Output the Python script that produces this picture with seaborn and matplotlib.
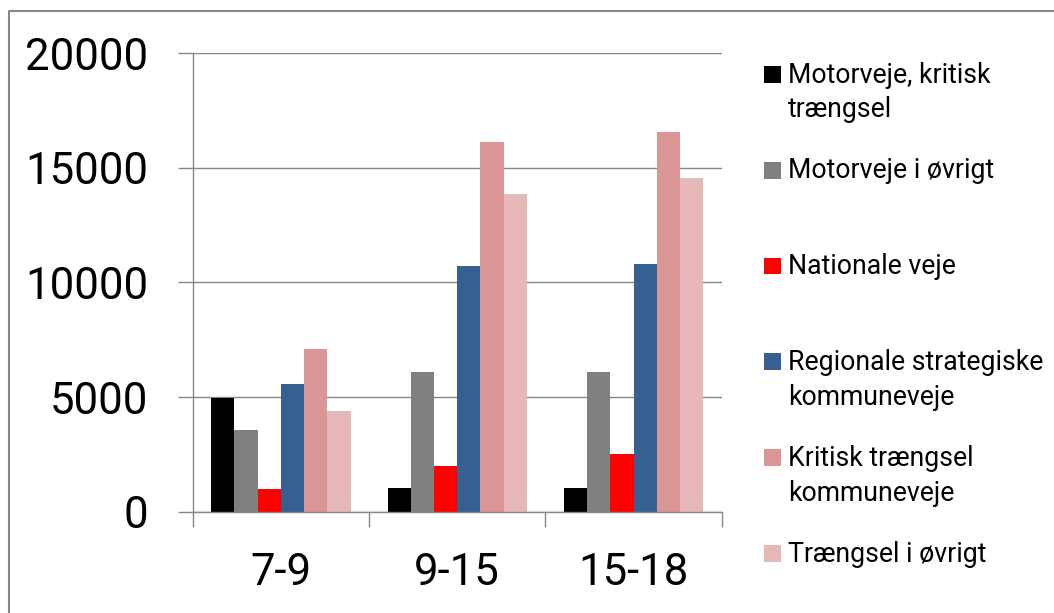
import matplotlib
matplotlib.use("Agg")
import matplotlib.pyplot as plt
import numpy as np
import pandas as pd
import seaborn as sns
from matplotlib.lines import Line2D
from matplotlib.patches import Rectangle

# Time-of-day periods on the x axis
periods = ["7-9", "9-15", "15-18"]

# Road categories (line breaks mark how the legend text wraps)
road_types = [
    "Motorveje, kritisk\ntrængsel",
    "Motorveje i øvrigt",
    "Nationale veje",
    "Regionale strategiske\nkommuneveje",
    "Kritisk trængsel\nkommuneveje",
    "Trængsel i øvrigt",
]

# Values per period for each road category
motorveje_kritisk = [4950, 1050, 1050]
motorveje_oevrigt = [3550, 6100, 6100]
nationale_veje = [1000, 2000, 2500]
regionale_strategiske = [5550, 10700, 10800]
kritisk_kommuneveje = [7100, 16100, 16550]
traengsel_oevrigt = [4400, 13850, 14550]

y_ticks = [0, 5000, 10000, 15000, 20000]

colors = ["#000000", "#808080", "#FF0000", "#376092", "#D99694", "#E6B9B8"]
GRAY = "#868686"

series = [motorveje_kritisk, motorveje_oevrigt, nationale_veje,
          regionale_strategiske, kritisk_kommuneveje, traengsel_oevrigt]
df = pd.DataFrame(
    [(p, road, v) for road, vals in zip(road_types, series) for p, v in zip(periods, vals)],
    columns=["period", "road", "value"],
)

sns.set_theme(style="white")
plt.rcParams["font.family"] = ["Roboto", "DejaVu Sans"]

W, H = 1054, 613
fig = plt.figure(figsize=(W / 100, H / 100), dpi=100)
fig.patch.set_facecolor("white")


def fx(px):
    return px / W


def fy(py):
    return 1 - py / H


ax = fig.add_axes([fx(192.7), fy(511.7), fx(721.7) - fx(192.7), fy(53) - fy(511.7)])

sns.barplot(
    data=df, x="period", y="value", hue="road",
    order=periods, hue_order=road_types, palette=colors,
    width=0.79, saturation=1, linewidth=0, errorbar=None,
    legend=False, ax=ax,
)

ax.set_xlim(-0.5, len(periods) - 0.5)
ax.set_ylim(0, 20000)
ax.set_yticks(y_ticks)
ax.set_yticklabels([str(t) for t in y_ticks])
ax.set_xlabel("")
ax.set_ylabel("")

ax.set_axisbelow(True)
ax.yaxis.grid(True, color=GRAY, linewidth=1.0)
ax.xaxis.grid(False)

for side in ("top", "right"):
    ax.spines[side].set_visible(False)
for side in ("left", "bottom"):
    ax.spines[side].set_color(GRAY)
    ax.spines[side].set_linewidth(1.0)

ax.tick_params(axis="y", direction="out", length=10.8, width=1.0, color=GRAY,
               pad=21, labelsize=31.5, labelcolor="black", left=True)
ax.tick_params(axis="x", which="major", length=0, pad=29, labelsize=31.5,
               labelcolor="black", bottom=True)
ax.set_xticks(np.arange(-0.5, len(periods), 1.0), minor=True)
ax.tick_params(axis="x", which="minor", direction="out", length=10.8, width=1.0,
               color=GRAY, bottom=True)

# Legend on the right, one entry per road category
base0, step = 82.7, 95.8
for k, (name, col) in enumerate(zip(road_types, colors)):
    base = base0 + step * k
    fig.patches.append(Rectangle((fx(764), fy(base)), fx(780.7) - fx(764), fy(base - 16.7) - fy(base),
                                 transform=fig.transFigure, facecolor=col, edgecolor="none"))
    for j, line in enumerate(name.split("\n")):
        fig.text(fx(788), fy(base + 34.7 * j), line, fontsize=19.2, color="black",
                 ha="left", va="baseline")

# Outer chart frame
fig.add_artist(Line2D([fx(9.3), fx(9.3), fx(1054)], [fy(613), fy(11), fy(11)],
                      transform=fig.transFigure, color=GRAY, linewidth=1.5))

fig.savefig("out.png", dpi=100, facecolor="white")
